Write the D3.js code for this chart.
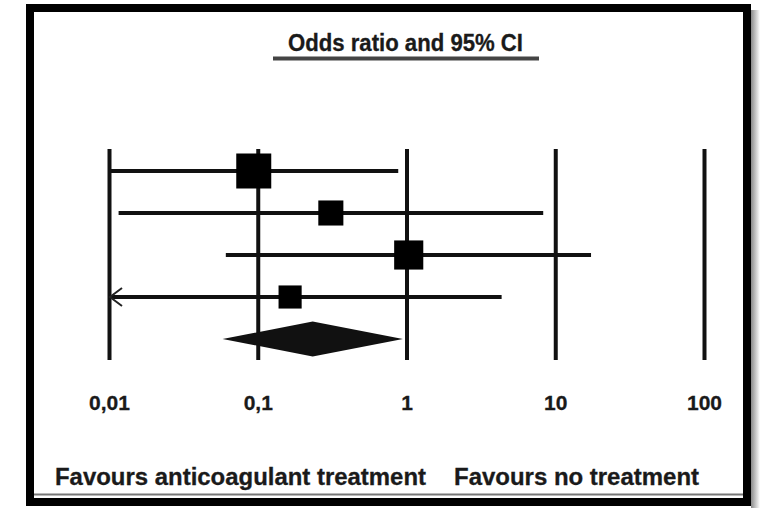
<!DOCTYPE html>
<html>
<head>
<meta charset="utf-8">
<script src="https://cdn.jsdelivr.net/npm/d3@7"></script>
<style>
  body { margin: 0; background: #fff; }
  svg { display: block; }
  text { font-family: "Liberation Sans", Arial, sans-serif; font-weight: bold; fill: #1a1a1a; stroke: #1a1a1a; stroke-width: 0.3; }
</style>
</head>
<body>
<div id="chart"></div>
<script>
// forest plot data
var studies = ["Study 1", "Study 2", "Study 3", "Study 4"];
var oddsRatio = [0.094, 0.31, 1.035, 0.165];
var ciLow = [0.01, 0.0116, 0.061, 0.005];   // below 0.01 gets an arrow
var ciHigh = [0.88, 8.3, 17.4, 4.36];
var weights = [39, 20, 27, 17];
var pooled = { or: 0.234, low: 0.058, high: 0.946 };
var tickValues = [0.01, 0.1, 1, 10, 100];
var tickLabels = ["0,01", "0,1", "1", "10", "100"];
var title = "Odds ratio and 95% CI";
var leftLabel = "Favours anticoagulant treatment";
var rightLabel = "Favours no treatment";

var W = 764, H = 508;

var svg = d3.select("#chart").append("svg")
  .attr("width", W)
  .attr("height", H);

// frame shadow
var defs = svg.append("defs");
var grad = defs.append("linearGradient").attr("id", "shade");
grad.append("stop").attr("offset", "0%").attr("stop-color", "#8a8a8a");
grad.append("stop").attr("offset", "100%").attr("stop-color", "#fff");
svg.append("rect")
  .attr("x", 751).attr("y", 10).attr("width", 9).attr("height", 498)
  .attr("fill", "url(#shade)");

// frame
svg.append("rect")
  .attr("x", 30).attr("y", 8).attr("width", 717).attr("height", 494)
  .attr("fill", "none")
  .attr("stroke", "#000")
  .attr("stroke-width", 8);
svg.append("line")
  .attr("x1", 34).attr("x2", 743).attr("y1", 494.5).attr("y2", 494.5)
  .attr("stroke", "#777").attr("stroke-width", 2);

var x = d3.scaleLog().domain([0.01, 100]).range([109, 704]);
var rows = studies.concat(["pooled"]);
var y = d3.scalePoint().domain(rows).range([171, 339]);

// title + underline
svg.append("text")
  .attr("x", 405.5).attr("y", 51)
  .attr("text-anchor", "middle")
  .attr("font-size", 23)
  .attr("textLength", 235)
  .attr("lengthAdjust", "spacingAndGlyphs")
  .text(title);
svg.append("line")
  .attr("x1", 273).attr("x2", 539).attr("y1", 58.5).attr("y2", 58.5)
  .attr("stroke", "#444").attr("stroke-width", 4);

// axis: long vertical lines at each decade
var axis = d3.axisBottom(x)
  .tickValues(tickValues)
  .tickFormat(function(d, i) { return tickLabels[i]; })
  .tickSizeInner(-211)
  .tickSizeOuter(0)
  .tickPadding(35);

var gAxis = svg.append("g")
  .attr("transform", "translate(0,360)")
  .call(axis);
gAxis.select(".domain").remove();
gAxis.selectAll(".tick line")
  .attr("stroke", "#111")
  .attr("stroke-width", 4);
gAxis.selectAll(".tick text")
  .attr("font-size", 21)
  .attr("font-family", "'Liberation Sans', Arial, sans-serif")
  .attr("font-weight", "bold")
  .attr("fill", "#1a1a1a");

// confidence intervals
var minX = x.domain()[0];
var data = studies.map(function(s, i) {
  return { name: s, or: oddsRatio[i], low: ciLow[i], high: ciHigh[i], w: weights[i] };
});

svg.selectAll(".ci")
  .data(data)
  .enter().append("line")
  .attr("class", "ci")
  .attr("x1", function(d) { return x(Math.max(d.low, minX)); })
  .attr("x2", function(d) { return x(d.high); })
  .attr("y1", function(d) { return y(d.name); })
  .attr("y2", function(d) { return y(d.name); })
  .attr("stroke", "#111")
  .attr("stroke-width", 4);

// arrow for truncated lower bound
svg.selectAll(".arrow")
  .data(data.filter(function(d) { return d.low < minX; }))
  .enter().append("path")
  .attr("class", "arrow")
  .attr("d", function(d) {
    var x0 = x(minX) + 1, y0 = y(d.name);
    return "M" + (x0 + 12) + "," + (y0 - 9) + "L" + x0 + "," + y0 + "L" + (x0 + 12) + "," + (y0 + 9);
  })
  .attr("fill", "none")
  .attr("stroke", "#222")
  .attr("stroke-width", 2);

// squares sized by weight
var size = d3.scaleSqrt().domain([0, d3.max(weights)]).range([0, 35]);
svg.selectAll(".square")
  .data(data)
  .enter().append("rect")
  .attr("class", "square")
  .attr("x", function(d) { return x(d.or) - size(d.w) / 2; })
  .attr("y", function(d) { return y(d.name) - size(d.w) / 2; })
  .attr("width", function(d) { return size(d.w); })
  .attr("height", function(d) { return size(d.w); })
  .attr("fill", "#000");

// pooled diamond
var py = y("pooled");
svg.append("path")
  .attr("d", "M" + x(pooled.low) + "," + py +
             "L" + x(pooled.or) + "," + (py - 17.5) +
             "L" + x(pooled.high) + "," + py +
             "L" + x(pooled.or) + "," + (py + 17.5) + "Z")
  .attr("fill", "#111");

// bottom labels
svg.append("text")
  .attr("x", 55).attr("y", 485)
  .attr("font-size", 23)
  .attr("textLength", 371)
  .attr("lengthAdjust", "spacingAndGlyphs")
  .text(leftLabel);
svg.append("text")
  .attr("x", 454).attr("y", 485)
  .attr("font-size", 23)
  .attr("textLength", 245)
  .attr("lengthAdjust", "spacingAndGlyphs")
  .text(rightLabel);
</script>
</body>
</html>
